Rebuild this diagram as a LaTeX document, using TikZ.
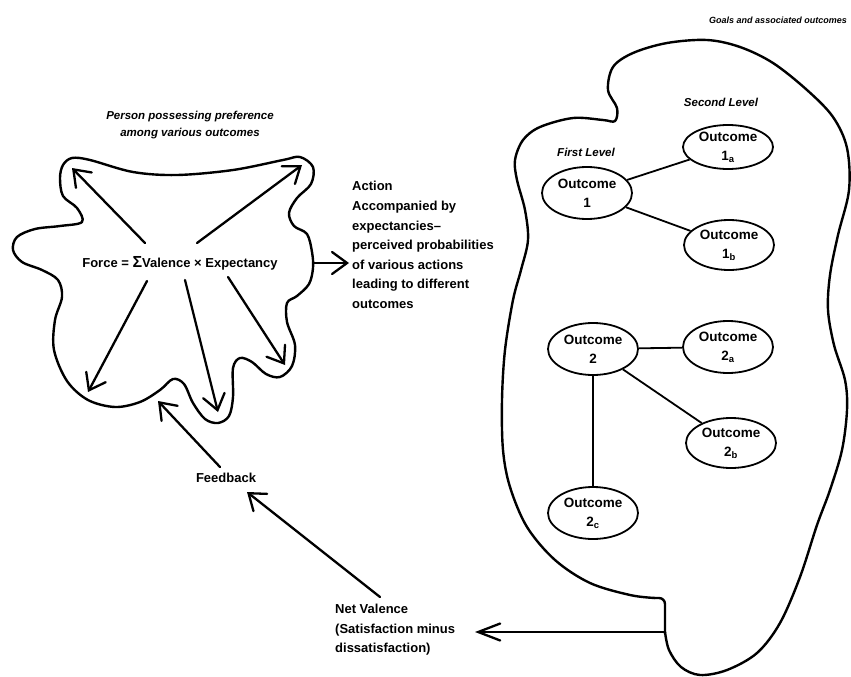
\documentclass[tikz,border=0pt]{standalone}
\usepackage{fontspec}
\setmainfont{Liberation Sans}
\usetikzlibrary{arrows.meta,shapes.geometric}
\tikzset{
  outline/.style={line width=2.4pt, line join=round, line cap=round},
  arr/.style={line width=2.3pt, line cap=round,
    -{Straight Barb[length=15pt,width=22pt,line width=2.3pt,line cap=round]}},
  outc/.style={draw, ellipse, line width=1.8pt, inner sep=0pt,
    minimum width=90pt, minimum height=52pt, align=center,
    font=\bfseries\fontsize{13.5}{19}\selectfont},
  link/.style={line width=1.8pt},
  lab/.style={align=left, inner sep=3pt, font=\bfseries\fontsize{13}{19.6}\selectfont},
  title/.style={align=center, inner sep=0pt, font=\bfseries\itshape\fontsize{11.5}{17}\selectfont}
}
\begin{document}
\begin{tikzpicture}[x=1pt,y=-1pt]
\useasboundingbox (0,0) rectangle (851,677);

% ---------- person: wavy outline with the force equation ----------
\node[title] (ttlP) at (190,125) {Person possessing preference\\among various outcomes};
\draw[outline] plot[smooth cycle, tension=0.55] coordinates {
  (72,158) (90,160) (133,172) (177,175) (233,170) (283,160) (300,157)
  (313,167) (311,184) (297,198) (289,213) (294,226) (307,234) (312,252)
  (313,268) (309,284) (297,296) (287,303) (287,322) (295,345) (292,366)
  (280,377) (266,374) (252,362) (240,358) (233,368) (233,397) (229,416)
  (218,423) (205,419) (193,403) (184,384) (173,379) (160,390) (140,402)
  (115,407) (88,400) (67,381) (54,350) (55,320) (62,297) (58,280)
  (42,270) (22,262) (13,250) (17,237) (35,229) (60,226) (82,222)
  (77,208) (63,196) (60,178) (63,165)};
\node[font=\bfseries\fontsize{13}{15}\selectfont, inner sep=1pt] (force) at (180,263)
  {Force = {\fontsize{16}{15}\selectfont Σ}Valence × Expectancy};

\coordinate (ulT) at (145,243); \coordinate (ulH) at (72,168);
\coordinate (urT) at (197,243); \coordinate (urH) at (302,165);
\coordinate (llT) at (147,281); \coordinate (llH) at (88,392);
\coordinate (mdT) at (185,280); \coordinate (mdH) at (218,412);
\coordinate (lrT) at (228,277); \coordinate (lrH) at (285,365);
\foreach \t/\h in {ulT/ulH, urT/urH, llT/llH, mdT/mdH, lrT/lrH}
  \draw[arr] (\t) -- (\h);

% ---------- action ----------
\node[lab, anchor=west] (action) at (349,245) {Action\\Accompanied by\\expectancies--\\perceived probabilities\\of various actions\\leading to different\\outcomes};
\coordinate (actFrom) at (313,263);
\draw[arr] (actFrom) -- (actFrom -| action.west);

% ---------- goals: outline with outcome tree ----------
\node[inner sep=0pt, font=\bfseries\itshape\fontsize{9}{11}\selectfont] (ttlG) at (778,20) {Goals and associated outcomes};
\draw[outline] plot[smooth, tension=0.55] coordinates {
  (655,598) (630,595) (590,583) (555,560) (527,527) (510,487) (503,450)
  (502,400) (505,350) (513,300) (521,270) (528,240) (525,210) (517,180)
  (515,160) (523,140) (540,127) (573,118) (603,120) (615,121) (617,108)
  (608,90) (613,67) (633,53) (667,43) (707,40) (740,47) (773,63) (807,90)
  (833,117) (847,148) (849,190) (838,235) (830,275) (828,310) (834,345)
  (845,380) (847,410) (842,450) (830,490) (817,525) (800,577) (780,623)
  (757,653) (727,670) (700,675) (681,667) (669,650) (665,632)};
\draw[outline, rounded corners=6pt] (665,634) -- (665,598) -- (654,598);
\coordinate (tab) at (665,632);

\node[title] (first) at (586,152) {First Level};
\node[title] (second) at (721,102) {Second Level};

\node[outc] (o1)  at (587,193) {Outcome\\1};
\node[outc, minimum height=44pt] (o1a) at (728,147) {Outcome\\1\textsubscript{a}};
\node[outc, minimum height=50pt] (o1b) at (729,245) {Outcome\\1\textsubscript{b}};
\node[outc] (o2)  at (593,349) {Outcome\\2};
\node[outc] (o2a) at (728,347) {Outcome\\2\textsubscript{a}};
\node[outc, minimum height=50pt] (o2b) at (731,443) {Outcome\\2\textsubscript{b}};
\node[outc] (o2c) at (593,513) {Outcome\\2\textsubscript{c}};

\draw[link] (o1) -- (o1a);
\draw[link] (o1) -- (o1b);
\draw[link] (o2) -- (o2a);
\draw[link] (o2) -- (o2b);
\draw[link] (o2) -- (o2c);

% ---------- net valence and feedback ----------
\node[lab, anchor=west] (nv) at (332,630) {Net Valence\\(Satisfaction minus\\dissatisfaction)};
\coordinate (nvIn) at (475,632);
\draw[arr, -{Straight Barb[length=22pt,width=17pt,line width=2.3pt,line cap=round]}] (tab) -- (nvIn);

\node[lab, align=center, inner sep=1pt] (fb) at (226,478) {Feedback};
\coordinate (nvOut) at (380,597); \coordinate (fbIn) at (247,492);
\draw[arr] (nvOut) -- (fbIn);
\coordinate (fbOut) at (220,467); \coordinate (pIn) at (158,401);
\draw[arr] (fbOut) -- (pIn);
\end{tikzpicture}
\end{document}
